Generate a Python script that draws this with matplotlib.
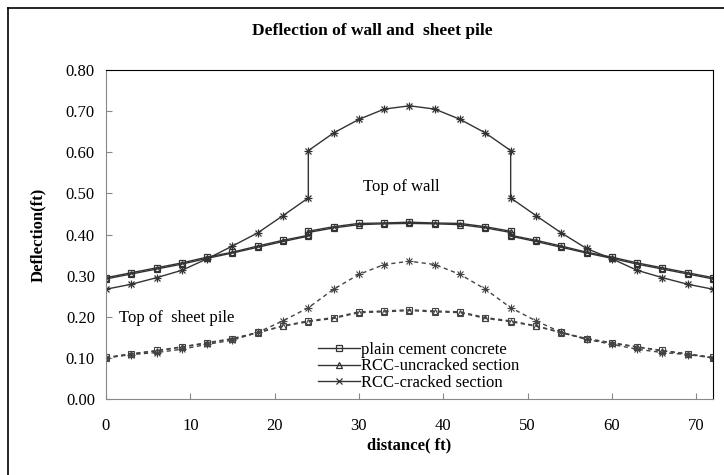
import matplotlib.pyplot as plt
from matplotlib.lines import Line2D

# distance along the wall (ft); 24 and 48 appear twice where the wall deflection jumps
x_wall = [0, 3, 6, 9, 12, 15, 18, 21, 24, 24, 27, 30, 33, 36,
          39, 42, 45, 48, 48, 51, 54, 57, 60, 63, 66, 69, 72]
x_pile = [0, 3, 6, 9, 12, 15, 18, 21, 24, 27, 30, 33, 36,
          39, 42, 45, 48, 51, 54, 57, 60, 63, 66, 69, 72]

# top of wall
wall_plain = [0.295, 0.307, 0.319, 0.331, 0.345, 0.357, 0.372, 0.386, 0.398, 0.408, 0.419, 0.427, 0.428, 0.430,
              0.428, 0.427, 0.419, 0.408, 0.398, 0.386, 0.372, 0.357, 0.345, 0.331, 0.319, 0.307, 0.295]
wall_uncracked = [0.292, 0.304, 0.316, 0.328, 0.342, 0.355, 0.369, 0.383, 0.396, 0.405, 0.416, 0.424, 0.426, 0.427,
                  0.426, 0.424, 0.416, 0.405, 0.396, 0.383, 0.369, 0.355, 0.342, 0.328, 0.316, 0.304, 0.292]
wall_cracked = [0.267, 0.279, 0.295, 0.313, 0.341, 0.372, 0.404, 0.446, 0.489, 0.604, 0.647, 0.680, 0.705, 0.713,
                0.705, 0.680, 0.647, 0.604, 0.489, 0.446, 0.404, 0.366, 0.341, 0.313, 0.295, 0.279, 0.267]

# top of sheet pile
pile_plain = [0.101, 0.110, 0.118, 0.127, 0.137, 0.147, 0.162, 0.178, 0.190, 0.198, 0.212, 0.214, 0.217,
              0.214, 0.212, 0.198, 0.190, 0.178, 0.162, 0.147, 0.137, 0.127, 0.118, 0.110, 0.101]
pile_uncracked = [0.100, 0.109, 0.117, 0.126, 0.136, 0.146, 0.161, 0.177, 0.188, 0.196, 0.210, 0.212, 0.215,
                  0.212, 0.210, 0.196, 0.188, 0.177, 0.161, 0.146, 0.136, 0.126, 0.117, 0.109, 0.100]
pile_cracked = [0.100, 0.108, 0.113, 0.121, 0.133, 0.143, 0.162, 0.190, 0.222, 0.267, 0.303, 0.327, 0.335,
                0.327, 0.303, 0.267, 0.222, 0.190, 0.162, 0.145, 0.133, 0.121, 0.113, 0.108, 0.100]

plt.rcParams['font.family'] = ['Liberation Serif', 'DejaVu Serif']

fig = plt.figure(figsize=(7.24, 4.75), dpi=100)
ax = fig.add_axes([0.1464, 0.16, 0.8384, 0.6926])

line_kw = dict(color='#333333', lw=1.0, ms=5, mew=0.9)
ax.plot(x_wall, wall_plain, marker='s', mfc='none', label='plain cement concrete', **line_kw)
ax.plot(x_wall, wall_uncracked, marker='^', mfc='none', label='RCC-uncracked section', **line_kw)
ax.plot(x_wall, wall_cracked, marker='x', label='RCC-cracked section', **line_kw)
ax.plot(x_wall, wall_cracked, marker='+', ls='none', color='#333333', ms=6, mew=0.9)

dash_kw = dict(color='#444444', lw=1.0, ls=(0, (3, 2.5)), ms=5, mew=0.8)
ax.plot(x_pile, pile_plain, marker='s', mfc='none', **dash_kw)
ax.plot(x_pile, pile_uncracked, marker='^', mfc='none', **dash_kw)
ax.plot(x_pile, pile_cracked, marker='x', **dash_kw)
ax.plot(x_pile, pile_cracked, marker='+', ls='none', color='#444444', ms=6, mew=0.8)

ax.set_xlim(0, 72)
ax.set_ylim(0, 0.8)
ax.set_xticks(range(0, 80, 10))
ax.set_yticks([i / 10 for i in range(9)])
ax.set_yticklabels([f'{i / 10:.2f}' for i in range(9)])
ax.tick_params(direction='in', length=4, labelsize=12, color='#888888', pad=8)
ax.tick_params(axis='x', pad=14)
for side in ('left', 'bottom'):
    ax.spines[side].set_color('#888888')
for side in ('top', 'right'):
    ax.spines[side].set_color('black')

ax.set_xlabel('distance( ft)', fontsize=12, fontweight='bold', labelpad=2)
ax.set_ylabel('Deflection(ft)', fontsize=12, fontweight='bold', labelpad=14)
fig.text(0.514, 0.934, 'Deflection of wall and  sheet pile', ha='center', va='center',
         fontsize=12.5, fontweight='bold', fontstretch='condensed')

ax.text(35.0, 0.515, 'Top of wall', fontsize=12, ha='center', va='center')
ax.text(1.6, 0.197, 'Top of  sheet pile', fontsize=12, ha='left', va='center')

ax.legend(loc='lower left', bbox_to_anchor=(0.33, -0.012), frameon=False, fontsize=12,
          handlelength=2.5, handletextpad=0.1, labelspacing=0.05, borderpad=0.2)

# outer frame around the chart area
fig.add_artist(Line2D([8 / 724, 8 / 724], [0, 1 - 8 / 475], color='black', lw=1.2))
fig.add_artist(Line2D([8 / 724, 1], [1 - 8 / 475, 1 - 8 / 475], color='black', lw=1.2))

fig.savefig('out.png', dpi=100)
